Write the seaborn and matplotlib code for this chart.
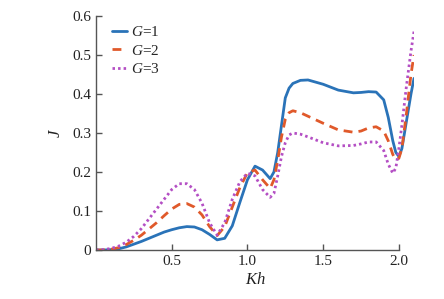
import numpy as np
import pandas as pd
import matplotlib
matplotlib.use("Agg")
import matplotlib.pyplot as plt
import seaborn as sns

# valeurs
kh = [0, 0.05, 0.1, 0.15, 0.2, 0.25, 0.3, 0.35, 0.4, 0.45, 0.5, 0.55, 0.6, 0.65,
      0.7, 0.75, 0.8, 0.85, 0.9, 0.95, 1.0, 1.05, 1.1, 1.15, 1.175, 1.2, 1.225,
      1.25, 1.275, 1.3, 1.35, 1.4, 1.5, 1.6, 1.7, 1.75, 1.8, 1.85, 1.9, 1.93,
      1.96, 1.98, 2.0, 2.02, 2.05, 2.08, 2.1]

j_g1 = [0, 0, 0.001, 0.003, 0.008, 0.015, 0.022, 0.03, 0.038, 0.046, 0.052, 0.057,
        0.06, 0.059, 0.052, 0.04, 0.026, 0.03, 0.062, 0.122, 0.18, 0.215, 0.205,
        0.183, 0.2, 0.25, 0.32, 0.39, 0.415, 0.427, 0.435, 0.436, 0.425, 0.41,
        0.403, 0.404, 0.406, 0.405, 0.385, 0.34, 0.28, 0.25, 0.24, 0.26, 0.33,
        0.40, 0.44]

j_g2 = [0, 0, 0.002, 0.006, 0.014, 0.025, 0.038, 0.054, 0.07, 0.088, 0.105, 0.117,
        0.119, 0.11, 0.09, 0.06, 0.037, 0.06, 0.11, 0.16, 0.198, 0.205, 0.18,
        0.158, 0.18, 0.23, 0.29, 0.335, 0.352, 0.357, 0.352, 0.343, 0.325, 0.308,
        0.302, 0.305, 0.313, 0.316, 0.305, 0.28, 0.245, 0.232, 0.235, 0.26, 0.35,
        0.45, 0.5]

j_g3 = [0, 0.001, 0.004, 0.01, 0.02, 0.035, 0.055, 0.08, 0.105, 0.13, 0.155, 0.17,
        0.17, 0.155, 0.12, 0.07, 0.038, 0.07, 0.13, 0.175, 0.197, 0.19, 0.155,
        0.135, 0.145, 0.19, 0.24, 0.275, 0.295, 0.3, 0.297, 0.29, 0.275, 0.267,
        0.268, 0.272, 0.277, 0.277, 0.255, 0.22, 0.197, 0.21, 0.26, 0.32, 0.42,
        0.51, 0.56]

labels = ["$G$=1", "$G$=2", "$G$=3"]
couleurs = ["#2a73b8", "#e0592a", "#b44fc4"]
styles = ["-", (0, (3.2, 2.2)), (0, (0.9, 1.1))]

sns.set_style("ticks")
plt.rcParams["font.family"] = ["Liberation Serif", "DejaVu Serif"]
plt.rcParams["mathtext.fontset"] = "custom"
plt.rcParams["mathtext.it"] = "Liberation Serif:italic"
plt.rcParams["mathtext.rm"] = "Liberation Serif"

fig = plt.figure(figsize=(4.44, 2.99), dpi=100)
ax = fig.add_axes([96 / 444, 1 - 250 / 299, (414 - 96) / 444, (250 - 16) / 299])

for j, lab, c, ls in zip([j_g1, j_g2, j_g3], labels, couleurs, styles):
    sns.lineplot(x=kh, y=j, ax=ax, color=c, linestyle=ls, linewidth=2.0, label=lab)

ax.set_xlim(0, 2.1)
ax.set_ylim(0, 0.6)
ax.set_xticks([0.5, 1.0, 1.5, 2.0])
ax.set_xticklabels(["0.5", "1.0", "1.5", "2.0"])
ax.set_yticks([0, 0.1, 0.2, 0.3, 0.4, 0.5, 0.6])
ax.set_yticklabels(["0", "0.1", "0.2", "0.3", "0.4", "0.5", "0.6"])

for s in ["top", "right"]:
    ax.spines[s].set_visible(False)
ax.spines["bottom"].set_bounds(0, 2.0)
for s in ["left", "bottom"]:
    ax.spines[s].set_color("#555555")
    ax.spines[s].set_linewidth(1.0)
ax.tick_params(direction="in", length=4, width=1, color="#555555",
               labelsize=11, labelcolor="#222222")

ax.set_xlabel("$Kh$", fontsize=12, color="#222222", labelpad=3)
ax.set_ylabel("$J$", fontsize=12, color="#222222", labelpad=6)

leg = ax.legend(loc="upper left", bbox_to_anchor=(0.02, 1.0), frameon=False,
                fontsize=11, handlelength=1.0, handletextpad=0.3,
                labelspacing=0.3, borderaxespad=0.2)

fig.savefig("out.png", dpi=100)
